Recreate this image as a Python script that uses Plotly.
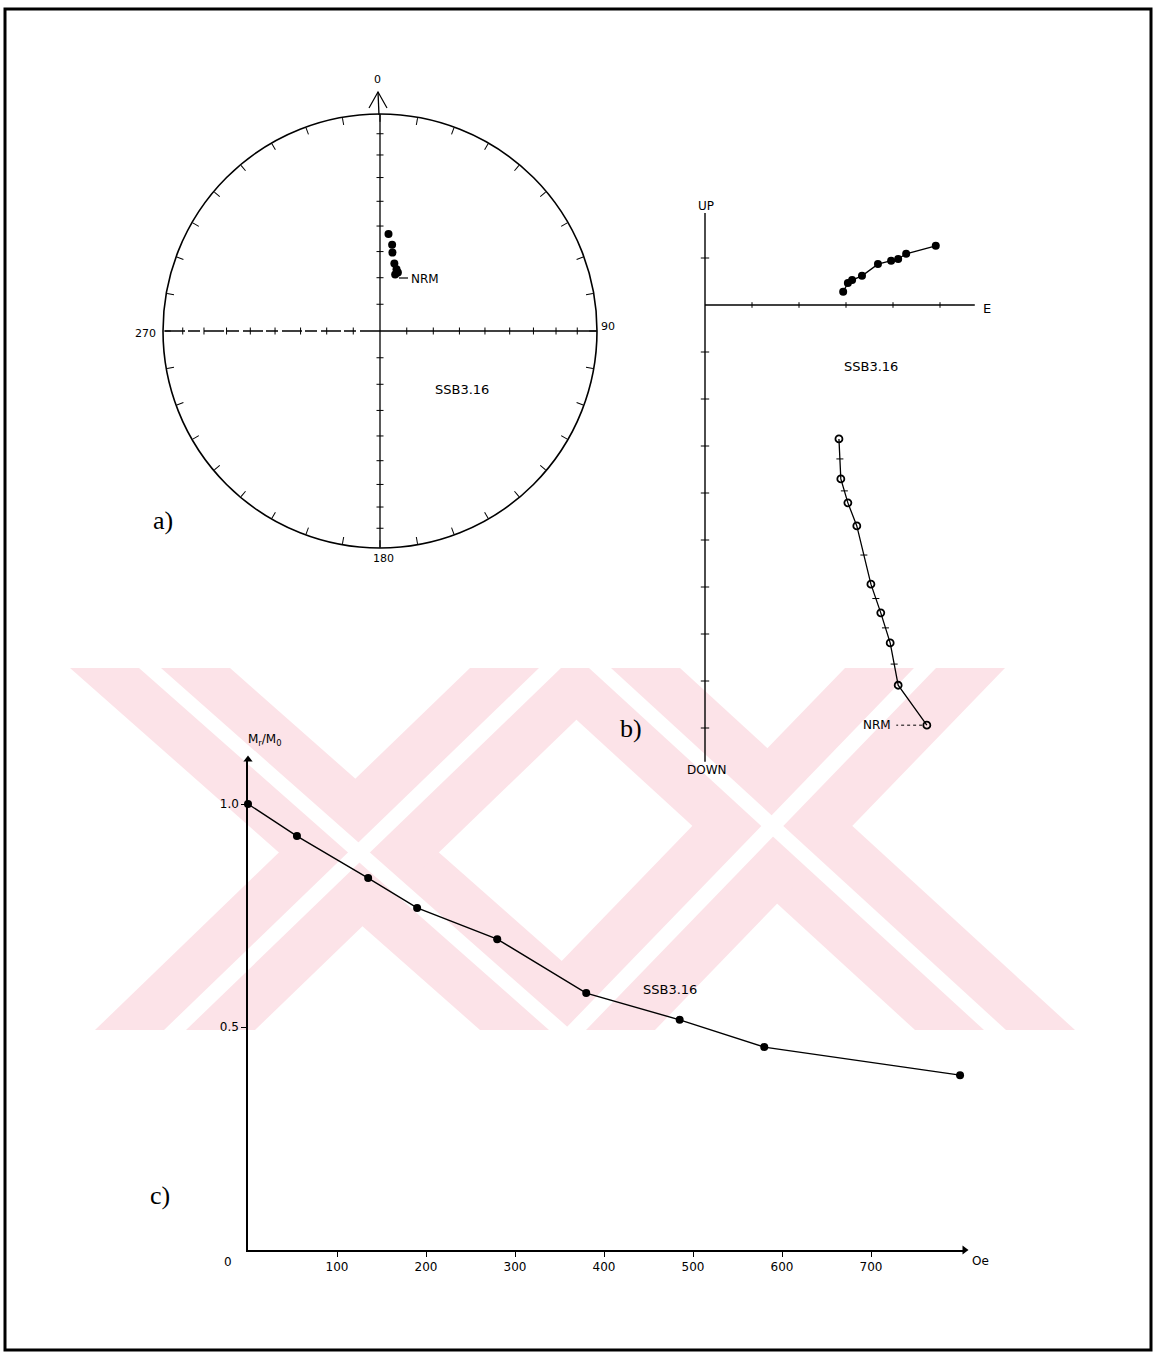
import numpy as np
import plotly.graph_objects as go

W, H = 1157, 1361
FONT = "DejaVu Sans"
PINK = "#fce3e8"

# ---------------- data ----------------
# a) stereonet: demagnetisation directions (declination, inclination in degrees)
stereo_dec = [5, 8, 9, 12, 15, 17, 15]
stereo_inc = [53, 57, 60, 64, 66, 67, 68]

# b) orthogonal vector plot (arbitrary units, one unit per axis tick)
horiz_e = [2.94, 3.04, 3.13, 3.34, 3.68, 3.96, 4.11, 4.28, 4.91]
horiz_n = [0.28, 0.47, 0.53, 0.62, 0.87, 0.94, 0.98, 1.09, 1.26]
vert_e = [2.85, 2.89, 3.04, 3.23, 3.53, 3.74, 3.94, 4.11, 4.72]
vert_z = [-2.85, -3.70, -4.21, -4.70, -5.94, -6.55, -7.19, -8.09, -8.94]
zij_ticks_v = [1, -1, -2, -3, -4, -5, -6, -7, -8, -9]
zij_ticks_h = [1, 2, 3, 4, 5]

# c) AF demagnetisation curve
field_oe = [0, 55, 135, 190, 280, 380, 485, 580, 800]
mr_m0 = [1.0, 0.928, 0.834, 0.767, 0.697, 0.576, 0.516, 0.455, 0.392]
x_ticks = [100, 200, 300, 400, 500, 600, 700]
y_ticks = [0.5, 1.0]
y_tick_text = ["0.5", "1.0"]

sample = "SSB3.16"


def px(x):
    return x / W


def py(y):
    return 1 - y / H


def equal_area(inc):
    inc = np.asarray(inc, dtype=float)
    return np.sqrt(2) * np.sin(np.radians(90 - inc) / 2)


fig = go.Figure()

# ---------------- a) equal-area stereonet ----------------
cross_inc = [10, 20, 30, 40, 50, 60, 70, 80]
cross_r = equal_area(cross_inc)
# N-S line and east arm solid, west arm broken as in the hand drawing
fig.add_trace(go.Scatterpolar(r=[1, 0, 1], theta=[0, 0, 180], mode="lines",
                              line=dict(color="black", width=1.3), subplot="polar",
                              showlegend=False, hoverinfo="skip"))
fig.add_trace(go.Scatterpolar(r=[0, 1], theta=[90, 90], mode="lines",
                              line=dict(color="black", width=1.3), subplot="polar",
                              showlegend=False, hoverinfo="skip"))
fig.add_trace(go.Scatterpolar(r=[0, 1], theta=[270, 270], mode="lines",
                              line=dict(color="black", width=1.3, dash="20px,4px,12px,3px"),
                              subplot="polar", showlegend=False, hoverinfo="skip"))
for th, sym in [(0, "line-ew"), (180, "line-ew"), (90, "line-ns"), (270, "line-ns")]:
    fig.add_trace(go.Scatterpolar(r=cross_r, theta=[th] * len(cross_r), mode="markers",
                                  marker=dict(symbol=sym, size=5, line=dict(color="black", width=1)),
                                  subplot="polar", showlegend=False, hoverinfo="skip"))
fig.add_trace(go.Scatterpolar(r=equal_area(stereo_inc), theta=stereo_dec, mode="markers",
                              marker=dict(color="black", size=8), subplot="polar",
                              showlegend=False))

# ---------------- b) orthogonal projection ----------------
ax_up, ax_down, ax_e = 1.96, -9.72, 5.74
fig.add_trace(go.Scatter(x=[0, 0], y=[ax_up, ax_down], mode="lines",
                         line=dict(color="black", width=1.4), xaxis="x2", yaxis="y2",
                         showlegend=False, hoverinfo="skip"))
fig.add_trace(go.Scatter(x=[0, ax_e], y=[0, 0], mode="lines",
                         line=dict(color="black", width=1.4), xaxis="x2", yaxis="y2",
                         showlegend=False, hoverinfo="skip"))
fig.add_trace(go.Scatter(x=[0] * len(zij_ticks_v), y=zij_ticks_v, mode="markers",
                         marker=dict(symbol="line-ew", size=6, line=dict(color="black", width=1)),
                         xaxis="x2", yaxis="y2", showlegend=False, hoverinfo="skip"))
fig.add_trace(go.Scatter(x=zij_ticks_h, y=[0] * len(zij_ticks_h), mode="markers",
                         marker=dict(symbol="line-ns", size=4, line=dict(color="black", width=1)),
                         xaxis="x2", yaxis="y2", showlegend=False, hoverinfo="skip"))
fig.add_trace(go.Scatter(x=horiz_e, y=horiz_n, mode="lines+markers",
                         line=dict(color="black", width=1.3),
                         marker=dict(color="black", size=8),
                         xaxis="x2", yaxis="y2", showlegend=False))
fig.add_trace(go.Scatter(x=vert_e, y=vert_z, mode="lines+markers",
                         line=dict(color="black", width=1.3),
                         marker=dict(symbol="circle-open", color="black", size=7,
                                     line=dict(width=1.8)),
                         xaxis="x2", yaxis="y2", showlegend=False))
# small step marks halfway along the vertical-projection segments
seg = [0, 1, 3, 4, 5, 6]
mid_e = [(vert_e[i] + vert_e[i + 1]) / 2 for i in seg]
mid_z = [(vert_z[i] + vert_z[i + 1]) / 2 for i in seg]
fig.add_trace(go.Scatter(x=mid_e, y=mid_z, mode="markers",
                         marker=dict(symbol="line-ew", size=5, line=dict(color="black", width=1)),
                         xaxis="x2", yaxis="y2", showlegend=False, hoverinfo="skip"))
# NRM leader (dotted)
fig.add_trace(go.Scatter(x=[vert_e[-1] - 0.1, vert_e[-1] - 0.65], y=[vert_z[-1]] * 2,
                         mode="lines", line=dict(color="black", width=1, dash="dot"),
                         xaxis="x2", yaxis="y2", showlegend=False, hoverinfo="skip"))

# ---------------- c) AF decay curve ----------------
fig.add_trace(go.Scatter(x=field_oe, y=mr_m0, mode="lines+markers",
                         line=dict(color="black", width=1.4),
                         marker=dict(color="black", size=8),
                         xaxis="x3", yaxis="y3", showlegend=False, cliponaxis=False))
fig.add_trace(go.Scatter(x=[0], y=[1.10], mode="markers",
                         marker=dict(symbol="triangle-up", size=8, color="black"),
                         xaxis="x3", yaxis="y3", showlegend=False, cliponaxis=False,
                         hoverinfo="skip"))
fig.add_trace(go.Scatter(x=[805], y=[0], mode="markers",
                         marker=dict(symbol="triangle-right", size=8, color="black"),
                         xaxis="x3", yaxis="y3", showlegend=False, cliponaxis=False,
                         hoverinfo="skip"))

# ---------------- layout ----------------
hidden = dict(visible=False, showgrid=False, zeroline=False)
fig.update_layout(
    width=W, height=H,
    margin=dict(l=0, r=0, t=0, b=0),
    paper_bgcolor="white",
    plot_bgcolor="rgba(0,0,0,0)",
    font=dict(family=FONT, size=12, color="black"),
    showlegend=False,
    polar=dict(
        domain=dict(x=[px(163), px(597)], y=[py(548), py(114)]),
        bgcolor="rgba(0,0,0,0)",
        angularaxis=dict(rotation=90, direction="clockwise",
                         tickvals=list(range(0, 360, 10)), ticks="inside", ticklen=7,
                         tickwidth=1, tickcolor="black", showticklabels=False,
                         showgrid=False, linecolor="black", linewidth=1.6),
        radialaxis=dict(visible=False, range=[0, 1]),
    ),
    xaxis2=dict(domain=[px(658), px(1010.5)], range=[-1, 6.5], anchor="y2", **hidden),
    yaxis2=dict(domain=[py(798.5), py(187.5)], range=[-10.5, 2.5], anchor="x2", **hidden),
    xaxis3=dict(domain=[px(248), px(964.5)], range=[0, 805], anchor="y3",
                showline=True, linecolor="black", linewidth=1.5, showgrid=False,
                zeroline=False, tickvals=x_ticks, ticks="outside", ticklen=5,
                tickcolor="black", tickfont=dict(size=12, family=FONT)),
    yaxis3=dict(domain=[py(1250), py(759.4)], range=[0, 1.10], anchor="x3",
                showline=True, linecolor="black", linewidth=1.5, showgrid=False,
                zeroline=False, tickvals=y_ticks, ticktext=y_tick_text,
                ticks="outside", ticklen=5, tickcolor="black",
                tickfont=dict(size=12, family=FONT)),
)


# watermark: two crossed double-band X shapes in pale pink
def poly(points):
    return "M " + " L ".join(f"{px(x):.5f},{py(y):.5f}" for x, y in points) + " Z"


top, bot = 668, 1030
bands = [
    ((70, 230), (480, 640)),
    ((470, 630), (95, 255)),
    ((520, 680), (915, 1075)),
    ((845, 1005), (495, 655)),
]
shapes = []
for (t0, t1), (b0, b1) in bands:
    shapes.append(dict(type="path", path=poly([(t0, top), (t1, top), (b1, bot), (b0, bot)]),
                       xref="paper", yref="paper", fillcolor=PINK, line=dict(width=0),
                       layer="below"))
for (t0, t1), (b0, b1) in bands:
    tm, bm = (t0 + t1) / 2, (b0 + b1) / 2
    shapes.append(dict(type="path", path=poly([(tm - 11, top), (tm + 11, top),
                                               (bm + 11, bot), (bm - 11, bot)]),
                       xref="paper", yref="paper", fillcolor="white", line=dict(width=0),
                       layer="below"))

# north arrow of the stereonet
shapes.append(dict(type="line", xref="paper", yref="paper", x0=px(379), y0=py(115),
                   x1=px(378), y1=py(92), line=dict(color="black", width=1.3)))
shapes.append(dict(type="path", xref="paper", yref="paper",
                   path=f"M {px(369):.5f},{py(108):.5f} L {px(378):.5f},{py(92):.5f} "
                        f"L {px(387):.5f},{py(108):.5f}",
                   line=dict(color="black", width=1.2)))
# NRM leader in the stereonet
shapes.append(dict(type="line", xref="paper", yref="paper", x0=px(399), y0=py(278),
                   x1=px(408), y1=py(278), line=dict(color="black", width=1.2)))
# page frame
shapes.append(dict(type="rect", xref="paper", yref="paper", x0=px(5), y0=py(1350),
                   x1=px(1151), y1=py(9), line=dict(color="black", width=3)))
fig.update_layout(shapes=shapes)


def label(x, y, text, size=12, family=FONT, xanchor="center"):
    fig.add_annotation(x=px(x), y=py(y), xref="paper", yref="paper", text=text,
                       showarrow=False, xanchor=xanchor, yanchor="middle",
                       font=dict(size=size, family=family, color="black"))


label(377, 80, "0", 11)
label(608, 326, "90", 11)
label(145, 333, "270", 11)
label(383, 558, "180", 11)
label(462, 390, sample, 13)
label(409, 279, "NRM", 12, xanchor="left")
label(163, 520, "a)", 26, "Liberation Serif")

label(706, 206, "UP", 12)
label(707, 770, "DOWN", 12)
label(987, 308, "E", 13)
label(871, 366, sample, 13)
label(893, 725, "NRM", 12, xanchor="right")
label(631, 728, "b)", 26, "Liberation Serif")

label(265, 740, "M<sub>r</sub>/M<sub>0</sub>", 12)
label(228, 1262, "0", 12)
label(980, 1261, "Oe", 12)
label(670, 990, sample, 13)
label(160, 1195, "c)", 26, "Liberation Serif")

fig.write_html("out.html")
